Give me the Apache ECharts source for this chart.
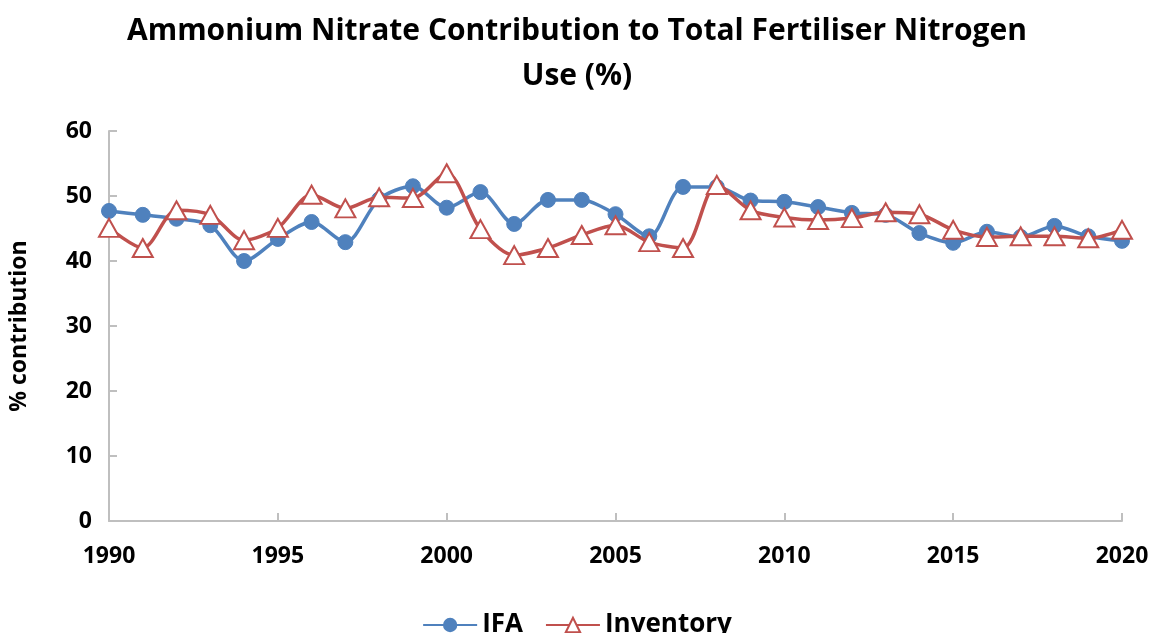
<!DOCTYPE html>
<html>
<head>
<meta charset="utf-8">
<script src="https://cdn.jsdelivr.net/npm/echarts@6/dist/echarts.min.js"></script>
<style>
  html, body { margin: 0; padding: 0; background: #fff; }
  #chart { width: 1154px; height: 633px; }
</style>
</head>
<body>
<div id="chart"></div>
<script>
// Share of ammonium nitrate in total fertiliser nitrogen use, by year
const years = [1990, 1991, 1992, 1993, 1994, 1995, 1996, 1997, 1998, 1999,
               2000, 2001, 2002, 2003, 2004, 2005, 2006, 2007, 2008, 2009,
               2010, 2011, 2012, 2013, 2014, 2015, 2016, 2017, 2018, 2019, 2020];
const ifaValues = [47.7, 47.1, 46.5, 45.5, 40.0, 43.4, 46.0, 42.9, 49.5, 51.5,
                   48.2, 50.6, 45.7, 49.4, 49.4, 47.2, 43.8, 51.4, 51.4, 49.3,
                   49.1, 48.3, 47.4, 47.1, 44.3, 42.8, 44.5, 43.7, 45.4, 43.8, 43.1];
const inventoryValues = [45.1, 42.0, 47.8, 47.1, 43.2, 45.1, 50.2, 48.1, 49.8, 49.7,
                         53.5, 44.9, 40.9, 42.0, 44.0, 45.5, 42.9, 42.0, 51.7, 47.8,
                         46.7, 46.3, 46.6, 47.5, 47.2, 44.8, 43.7, 43.8, 43.8, 43.5, 44.8];
const yTicks = { min: 0, max: 60, step: 10 };
const xTicks = { min: 1990, max: 2020, step: 5 };

const pairs = vals => years.map((y, i) => [y, vals[i]]);
const textFont = 'Open Sans';

const chart = echarts.init(document.getElementById('chart'));
chart.setOption({
  animation: false,
  title: {
    text: 'Ammonium Nitrate Contribution to Total Fertiliser Nitrogen\nUse (%)',
    left: 'center',
    top: 4,
    textStyle: { fontFamily: textFont, fontWeight: 'bold', fontSize: 30, lineHeight: 45, color: '#000' }
  },
  grid: { left: 107, right: 32, top: 131, bottom: 112 },
  xAxis: {
    type: 'value',
    min: xTicks.min, max: xTicks.max, interval: xTicks.step,
    axisLine: { lineStyle: { color: '#bfbfbf', width: 2 } },
    axisTick: { inside: true, length: 8, lineStyle: { color: '#bfbfbf', width: 2 } },
    splitLine: { show: false },
    axisLabel: {
      margin: 24, fontFamily: textFont, fontWeight: 'bold', fontSize: 23, color: '#000',
      formatter: v => String(v)
    }
  },
  yAxis: {
    type: 'value',
    min: yTicks.min, max: yTicks.max, interval: yTicks.step,
    name: '% contribution',
    nameLocation: 'middle',
    nameGap: 78,
    nameTextStyle: { fontFamily: textFont, fontWeight: 'bold', fontSize: 23, color: '#000' },
    axisLine: { show: true, lineStyle: { color: '#bfbfbf', width: 2 } },
    axisTick: { show: true, inside: true, length: 8, lineStyle: { color: '#bfbfbf', width: 2 } },
    splitLine: { show: false },
    axisLabel: { margin: 17, fontFamily: textFont, fontWeight: 'bold', fontSize: 23, color: '#000' }
  },
  legend: {
    bottom: -10,
    left: 'center',
    itemWidth: 54,
    itemHeight: 18,
    itemGap: 22,
    textStyle: { fontFamily: textFont, fontWeight: 'bold', fontSize: 26, color: '#000' },
    data: ['IFA', 'Inventory']
  },
  series: [
    {
      name: 'IFA',
      type: 'line',
      data: pairs(ifaValues),
      smooth: 0.3,
      symbol: 'circle',
      symbolSize: 15,
      lineStyle: { color: '#4f81bd', width: 3.5 },
      itemStyle: { color: '#4f81bd', borderColor: '#4f81bd' },
      z: 2
    },
    {
      name: 'Inventory',
      type: 'line',
      data: pairs(inventoryValues),
      smooth: 0.3,
      symbol: 'triangle',
      symbolSize: [20, 18],
      showAllSymbol: true,
      lineStyle: { color: '#c0504d', width: 3.5 },
      itemStyle: { color: '#fff', borderColor: '#c0504d', borderWidth: 2 },
      z: 3
    }
  ]
});
</script>
</body>
</html>
